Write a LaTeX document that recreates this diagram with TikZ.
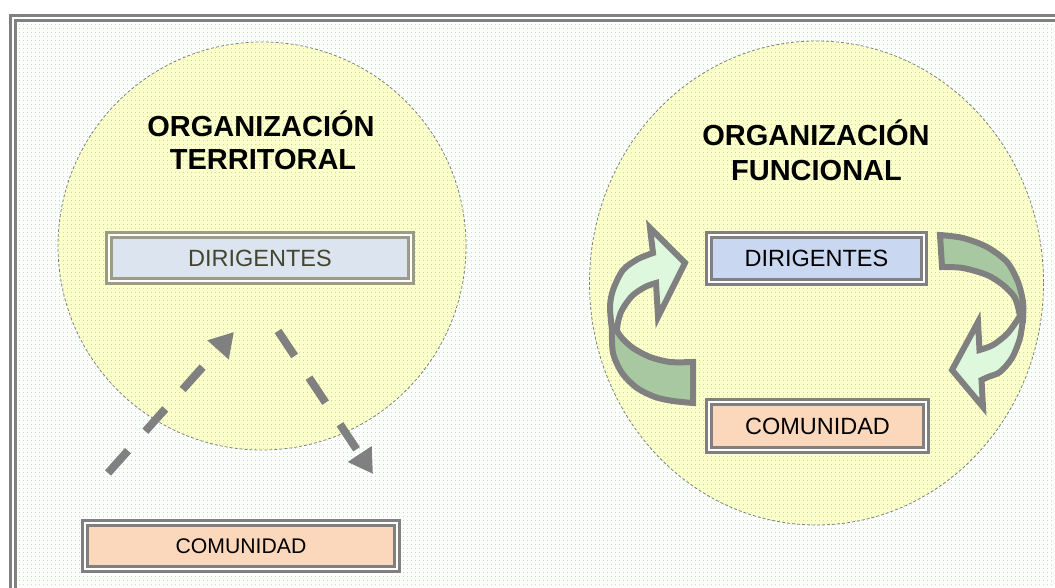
\documentclass[tikz,border=0pt]{standalone}
\usepackage{fontspec}
\setmainfont{Liberation Sans}
\usetikzlibrary{arrows.meta,patterns.meta}
\definecolor{edgegray}{HTML}{808080}
\definecolor{olivegray}{HTML}{9C9C86}
\definecolor{dotgreen}{HTML}{8CE88C}
\definecolor{paleyellow}{HTML}{FFFFCC}
\definecolor{blueA}{HTML}{DCE4EF}
\definecolor{blueB}{HTML}{C9D8F0}
\definecolor{peach}{HTML}{FBD8BC}
\definecolor{darkribbon}{HTML}{A8C8A2}
\definecolor{lightribbon}{HTML}{DDF8DD}
\definecolor{oliveText}{HTML}{45452F}
\tikzset{
  dotted bg/.style={pattern={Dots[distance=4pt,radius=0.6pt]},pattern color=dotgreen},
  zone/.style={draw=edgegray,line width=0.8pt,dash pattern=on 3pt off 2pt},
  titletext/.style={font=\fontsize{29}{33}\selectfont\bfseries,inner sep=0pt,anchor=base},
  boxnode/.style={rectangle,inner sep=0pt,draw=edgegray,line width=2.8pt,double=white,double distance=2pt,text=black,font=\fontsize{23.5}{28}\selectfont},
  dasharrow/.style={draw=edgegray,line width=8pt,dash pattern=on 30pt off 26pt,-{Triangle[length=24pt,width=27pt]}},
  ribbon/.style={draw=edgegray,line width=6pt,line join=miter,miter limit=4}
}
\begin{document}
\begin{tikzpicture}[x=1pt,y=-1pt]
\useasboundingbox (0,0) rectangle (1055,588);
\clip (0,0) rectangle (1055,588);
\fill[white] (0,0) rectangle (1055,588);
% frame
\fill[white] (13,18) rectangle (1080,620);
\fill[dotted bg] (13,18) rectangle (1080,620);
\draw[draw=edgegray,line width=3pt,double=white,double distance=2pt] (13,18) rectangle (1080,620);
% zones
\fill[paleyellow] (262,246) circle[radius=204];
\fill[dotted bg] (262,246) circle[radius=204];
\draw[zone] (262,246) circle[radius=204];
\fill[paleyellow] (816.5,283) ellipse[x radius=227,y radius=242];
\fill[dotted bg] (816.5,283) ellipse[x radius=227,y radius=242];
\draw[zone] (816.5,283) ellipse[x radius=227,y radius=242];
% titles
\node[titletext] (t1a) at (261,137) {ORGANIZACIÓN};
\node[titletext] (t1b) at (263,170) {TERRITORAL};
\node[titletext] (t2a) at (816,146) {ORGANIZACIÓN};
\node[titletext] (t2b) at (816.5,181) {FUNCIONAL};
% boxes
\node[boxnode,draw=olivegray,fill=blueA,text=oliveText,minimum width=302.4pt,minimum height=46.4pt] (dirL) at (260,258) {DIRIGENTES};
\node[boxnode,fill=peach,font=\fontsize{21.2}{26}\selectfont,minimum width=312.4pt,minimum height=46.4pt] (comL) at (241,546) {COMUNIDAD};
\node[boxnode,fill=blueB,minimum width=215.4pt,minimum height=47.4pt] (dirR) at (816.5,258.5) {DIRIGENTES};
\node[boxnode,fill=peach,minimum width=217.4pt,minimum height=48.4pt] (comR) at (817.5,426) {COMUNIDAD};
% dashed arrows
\coordinate (upS) at (108,473);
\coordinate (upE) at (234,332);
\coordinate (dnS) at (278,331);
\coordinate (dnE) at (373,474);
\draw[dasharrow] (upS) -- (upE);
\draw[dasharrow] (dnS) -- (dnE);
% left curved arrow (back, then front)
\filldraw[ribbon,fill=darkribbon] (693,362) -- (693,403)
  -- plot[smooth] coordinates {(693,403) (673,401) (655,397) (637,388) (622,373) (613,353) (612,330)}
  -- plot[smooth] coordinates {(617,331) (622,338) (633,348) (650,357) (670,362) (693,362)} -- cycle;
\filldraw[ribbon,fill=lightribbon] (612,330)
  -- plot[smooth] coordinates {(612,330) (610,307) (613,290) (623,270) (638,259) (653,253)}
  -- (650,228) -- (685,263) -- (658,317)
  -- plot[smooth] coordinates {(656,283) (645,287) (632,296) (622,310) (618,322) (617,331)} -- cycle;
% right curved arrow (back, then front)
\filldraw[ribbon,fill=darkribbon] (940,235) -- (942,267)
  -- plot[smooth] coordinates {(942,267) (963,268) (987,275) (1003,285) (1015,298) (1020,316)}
  -- (1023,318)
  -- plot[smooth] coordinates {(1023,318) (1023,302) (1018,282) (1007,262) (987,247) (963,238) (940,235)} -- cycle;
\filldraw[ribbon,fill=lightribbon] (1023,318)
  -- plot[smooth] coordinates {(1023,318) (1020,338) (1012,358) (1000,372) (988,377) (981.5,380)}
  -- (983,407) -- (952,370) -- (978,322)
  -- plot[smooth] coordinates {(979.5,350) (993,345) (1007,334) (1016,322) (1020,316)} -- cycle;
\end{tikzpicture}
\end{document}
